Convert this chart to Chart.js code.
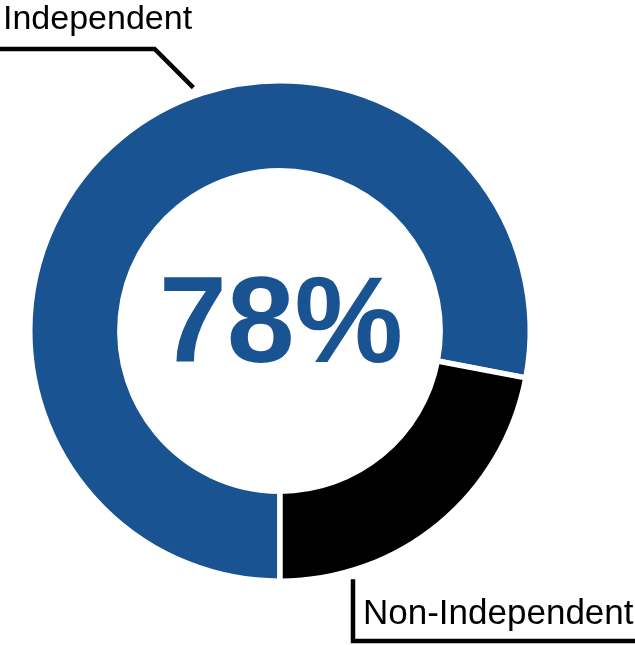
<!DOCTYPE html>
<html>
<head>
<meta charset="utf-8">
<script src="https://cdn.jsdelivr.net/npm/chart.js@4/dist/chart.umd.min.js"></script>
<style>
  html, body { margin: 0; padding: 0; background: #fff; }
  #wrap { width: 635px; height: 645px; }
</style>
</head>
<body>
<div id="wrap"><canvas id="donut" width="635" height="645"></canvas></div>
<script>
var labels = ["Independent", "Non-Independent"];
var shares = [78, 22];
var colors = ["#1a5391", "#000000"];
var centerLabel = shares[0] + "%";

// leader lines + labels, placed off the arc geometry
var calloutPlugin = {
  id: "callouts",
  afterDraw: function(chart) {
    var ctx = chart.ctx;
    var arc = chart.getDatasetMeta(0).data[0];
    var cx = arc.x, cy = arc.y, r = arc.outerRadius;

    ctx.save();
    // center value
    ctx.fillStyle = colors[0];
    ctx.font = "bold 122px 'Liberation Sans', Arial, sans-serif";
    ctx.textAlign = "center";
    ctx.textBaseline = "middle";
    ctx.fillText(centerLabel, cx + 1, cy - 3);

    ctx.strokeStyle = "#000";
    ctx.lineWidth = 4.5;
    ctx.lineCap = "butt";
    ctx.lineJoin = "miter";

    // Independent
    var a1 = -19.6 * Math.PI / 180;
    var ex = cx + Math.sin(a1) * (r + 8);
    var ey = cy - Math.cos(a1) * (r + 8);
    ctx.beginPath();
    ctx.moveTo(0, 49);
    ctx.lineTo(ex - (ey - 49), 49);
    ctx.lineTo(ex, ey);
    ctx.stroke();

    // Non-Independent
    ctx.beginPath();
    ctx.moveTo(353, cy + r - 2);
    ctx.lineTo(353, 641);
    ctx.lineTo(635, 641);
    ctx.stroke();

    ctx.fillStyle = "#000";
    ctx.textAlign = "left";
    ctx.textBaseline = "alphabetic";
    ctx.font = "34px 'Liberation Sans', Arial, sans-serif";
    ctx.fillText(labels[0], 3, 29);
    ctx.font = "35px 'Liberation Sans', Arial, sans-serif";
    ctx.fillText(labels[1], 363, 624);
    ctx.restore();
  }
};

var ctx = document.getElementById("donut").getContext("2d");
var chart = new Chart(ctx, {
  type: "doughnut",
  data: {
    labels: labels,
    datasets: [{
      data: shares,
      backgroundColor: colors,
      borderColor: "#ffffff",
      borderWidth: 5.5,
      hoverOffset: 0
    }]
  },
  options: {
    responsive: false,
    devicePixelRatio: 1,
    animation: false,
    rotation: 180,
    cutout: "64%",
    layout: { padding: { left: 27, right: 102, top: 78, bottom: 61 } },
    plugins: {
      legend: { display: false },
      tooltip: { enabled: false }
    }
  },
  plugins: [calloutPlugin]
});
</script>
</body>
</html>
